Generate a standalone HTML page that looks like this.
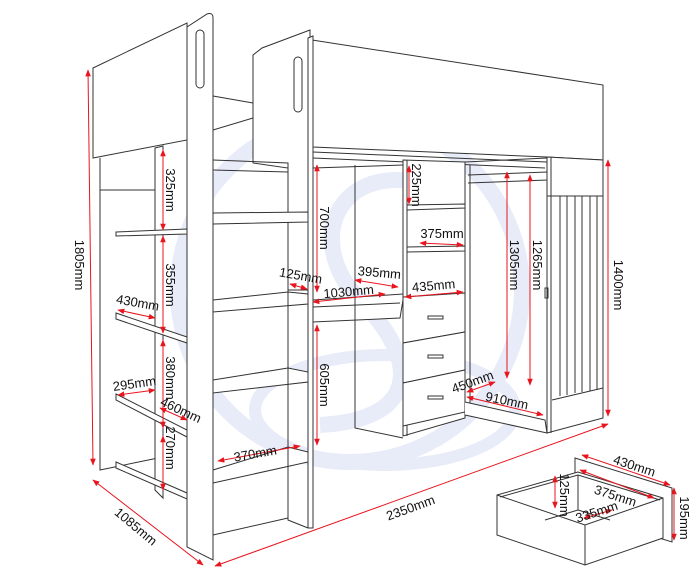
<!DOCTYPE html>
<html><head><meta charset="utf-8"><style>
html,body{margin:0;padding:0;background:#fff}
svg{display:block}
text{font-family:"Liberation Sans",sans-serif;font-size:13px;fill:#111}
.l{stroke:#333;stroke-width:1;fill:none}
.f{stroke:#333;stroke-width:1;fill:#fff}
.r{stroke:#e8141e;stroke-width:1;fill:none;marker-start:url(#a);marker-end:url(#a)}
</style></head><body>
<svg width="695" height="580" viewBox="0 0 695 580" xmlns="http://www.w3.org/2000/svg">
<defs><marker id="a" viewBox="0 0 10 10" refX="9" refY="5" markerWidth="7" markerHeight="7" orient="auto-start-reverse"><path d="M0,1 L10,5 L0,9 z" fill="#e8141e"/></marker></defs>
<!-- watermark -->
<g fill="none" stroke="#e8ebf8" stroke-width="16">
<ellipse cx="350" cy="290" rx="172" ry="172"/>
<path d="M445,190 C340,150 300,240 360,300 C420,360 420,420 320,425"/>
<ellipse cx="385" cy="410" rx="130" ry="55" stroke-width="12"/>
</g>
<!-- left headboard -->
<polygon class="f" points="93,68 187,23 187,140 93,158"/>
<!-- bed top -->
<polygon class="f" points="312,40 603,85 603,160 547,157 313,147"/>
<line class="l" x1="313" y1="152" x2="547" y2="162"/>
<line class="l" x1="313" y1="158" x2="545" y2="168"/>
<!-- back panels between ladder -->
<polyline class="l" points="213,96 253,103"/><polyline class="l" points="213,130 253,118"/>
<polygon class="f" points="253,55 262,48 310,30 310,290 288,290 288,168 253,163"/>
<polyline class="l" points="213,160 288,163 288,172 213,170"/>
<!-- left bookcase -->
<polyline class="l" points="100,158 100,470 158,458"/>
<polyline class="l" points="100,190 158,190"/>
<polygon class="f" points="155,148 163,146 163,498 155,490"/>
<polygon class="f" points="116,232 187,229 187,234 116,236"/>
<polygon class="f" points="116,313 187,337 187,343 116,319"/>
<polygon class="f" points="116,394 187,430 187,437 116,400"/>
<polygon class="f" points="116,462 187,493 187,499 116,468"/>
<!-- ladder steps -->
<polygon class="f" points="213,213 308,212 308,222 213,224"/>
<polygon class="f" points="213,300 288,292 308,294 308,304 213,312"/>
<polygon class="f" points="213,380 288,368 308,372 308,382 213,393"/>
<polygon class="f" points="213,470 288,447 308,452 308,462 213,483"/>
<polyline class="l" points="213,535 288,518"/>
<polyline class="l" points="288,290 288,520 308,528"/>
<!-- right rail -->
<polygon class="f" points="308,38 313,36 313,528 308,528"/>
<!-- ladder front panel -->
<path class="f" d="M187,547 L187,27 L207,14 Q213,12 213,18 L213,560 Z"/>
<rect x="196" y="30" width="8" height="58" rx="4" class="l"/>
<rect x="294" y="57" width="8" height="55" rx="4" class="l"/>
<!-- desk -->
<polygon class="f" points="313,300 403,294 403,300 400,318 313,322"/>
<line class="l" x1="313" y1="307" x2="400" y2="303"/>
<polyline class="l" points="355,165 355,428 403,438"/>
<polyline class="l" points="313,168 403,165"/>
<!-- drawer unit -->
<polygon class="f" points="403,160 465,162 465,418 403,436"/>
<line class="l" x1="407" y1="160" x2="407" y2="436"/>
<polygon class="f" points="407,205 465,204 465,208 407,210"/>
<polygon class="f" points="407,247 465,246 465,251 407,252"/>
<polygon class="f" points="403,297 465,293 465,332 403,343"/>
<polygon class="f" points="403,343 465,332 465,370 403,383"/>
<polygon class="f" points="403,383 465,370 465,412 403,426"/>
<rect x="428" y="316" width="15" height="3" class="l"/><rect x="428" y="355" width="15" height="3" class="l"/><rect x="428" y="396" width="15" height="3" class="l"/>
<!-- wardrobe open -->
<polyline class="l" points="465,162 547,158"/>
<polyline class="l" points="468,175 547,172 547,180 468,183"/>
<line class="l" x1="470" y1="165" x2="470" y2="410"/>
<polyline class="f" points="465,402 545,420 547,433 465,415"/>
<!-- wardrobe block -->
<polygon class="f" points="547,157 603,160 603,418 547,433"/>
<line class="l" x1="547" y1="196" x2="603" y2="196"/>
<line class="l" x1="551" y1="157" x2="551" y2="433"/>
<line class="l" x1="552" y1="400" x2="603" y2="388"/>
<g class="l"><line x1="560" y1="196" x2="560" y2="396"/><line x1="567" y1="196" x2="567" y2="395"/><line x1="575" y1="196" x2="575" y2="393"/><line x1="582" y1="196" x2="582" y2="392"/><line x1="590" y1="196" x2="590" y2="391"/><line x1="597" y1="196" x2="597" y2="390"/></g>
<rect x="545" y="288" width="3" height="10" class="l"/>
<!-- inset drawer -->
<polygon class="f" points="575,458 672,488 672,542 575,512"/>
<polygon class="f" points="497,495 578,472 663,498 663,538 585,565 497,535"/>
<polyline class="l" points="500,497 578,475 660,500"/>
<polyline class="l" points="497,495 585,525 663,498"/><line class="l" x1="585" y1="525" x2="585" y2="565"/>
<polyline class="l" points="578,475 578,510 545,520"/><line class="l" x1="578" y1="510" x2="610" y2="520"/>
<!-- dimension lines -->
<g class="r">
<line x1="88" y1="70" x2="93" y2="465"/>
<line x1="608" y1="160" x2="608" y2="416"/>
<line x1="93" y1="480" x2="203" y2="565"/>
<line x1="215" y1="566" x2="608" y2="424"/>
<line x1="163" y1="150" x2="163" y2="230"/><line x1="163" y1="236" x2="163" y2="333"/>
<line x1="163" y1="340" x2="163" y2="428"/><line x1="163" y1="436" x2="163" y2="490"/>
<line x1="317" y1="165" x2="317" y2="292"/><line x1="317" y1="325" x2="317" y2="445"/>
<line x1="409" y1="166" x2="409" y2="204"/>
<line x1="507" y1="172" x2="507" y2="378"/><line x1="530" y1="175" x2="530" y2="385"/>
<line x1="118" y1="310" x2="155" y2="318"/><line x1="118" y1="395" x2="155" y2="390"/>
<line x1="160" y1="408" x2="187" y2="420"/>
<line x1="218" y1="461" x2="300" y2="446"/>
<line x1="290" y1="284" x2="307" y2="289"/>
<line x1="355" y1="280" x2="398" y2="287"/>
<line x1="313" y1="302" x2="385" y2="294"/>
<line x1="420" y1="243" x2="463" y2="245"/>
<line x1="405" y1="297" x2="463" y2="292"/>
<line x1="467" y1="392" x2="495" y2="382"/>
<line x1="467" y1="397" x2="543" y2="415"/>
<line x1="582" y1="455" x2="670" y2="485"/>
<line x1="580" y1="470" x2="654" y2="498"/>
<line x1="555" y1="476" x2="555" y2="508"/>
<line x1="584" y1="518" x2="612" y2="510"/>
<line x1="674" y1="488" x2="674" y2="540"/>
</g>
<!-- labels -->
<text transform="translate(75,265) rotate(90)" text-anchor="middle">1805mm</text>
<text transform="translate(614,285) rotate(90)" text-anchor="middle">1400mm</text>
<text transform="translate(166,190) rotate(90)" text-anchor="middle">325mm</text>
<text transform="translate(166,285) rotate(90)" text-anchor="middle">355mm</text>
<text transform="translate(166,378) rotate(90)" text-anchor="middle">380mm</text>
<text transform="translate(166,448) rotate(90)" text-anchor="middle">270mm</text>
<text transform="translate(320,228) rotate(90)" text-anchor="middle">700mm</text>
<text transform="translate(320,385) rotate(90)" text-anchor="middle">605mm</text>
<text transform="translate(412,185) rotate(90)" text-anchor="middle">225mm</text>
<text transform="translate(510,265) rotate(90)" text-anchor="middle">1305mm</text>
<text transform="translate(533,265) rotate(90)" text-anchor="middle">1265mm</text>
<text transform="translate(137,307) rotate(10)" text-anchor="middle">430mm</text>
<text transform="translate(135,388) rotate(-8)" text-anchor="middle">295mm</text>
<text transform="translate(179,414) rotate(25)" text-anchor="middle">460mm</text>
<text transform="translate(256,458) rotate(-10)" text-anchor="middle">370mm</text>
<text transform="translate(300,280) rotate(10)" text-anchor="middle">125mm</text>
<text transform="translate(379,277) rotate(5)" text-anchor="middle">395mm</text>
<text transform="translate(349,296) rotate(-5)" text-anchor="middle">1030mm</text>
<text transform="translate(442,238)" text-anchor="middle">375mm</text>
<text transform="translate(434,290) rotate(-5)" text-anchor="middle">435mm</text>
<text transform="translate(474,386) rotate(-20)" text-anchor="middle">450mm</text>
<text transform="translate(506,405) rotate(12)" text-anchor="middle">910mm</text>
<text transform="translate(133,530) rotate(40)" text-anchor="middle">1085mm</text>
<text transform="translate(412,512) rotate(-20)" text-anchor="middle">2350mm</text>
<text transform="translate(633,470) rotate(18)" text-anchor="middle">430mm</text>
<text transform="translate(614,500) rotate(18)" text-anchor="middle">375mm</text>
<text transform="translate(560,495) rotate(90)" text-anchor="middle">125mm</text>
<text transform="translate(598,516) rotate(-18)" text-anchor="middle">335mm</text>
<text transform="translate(680,518) rotate(90)" text-anchor="middle">195mm</text>
</svg>
</body></html>
